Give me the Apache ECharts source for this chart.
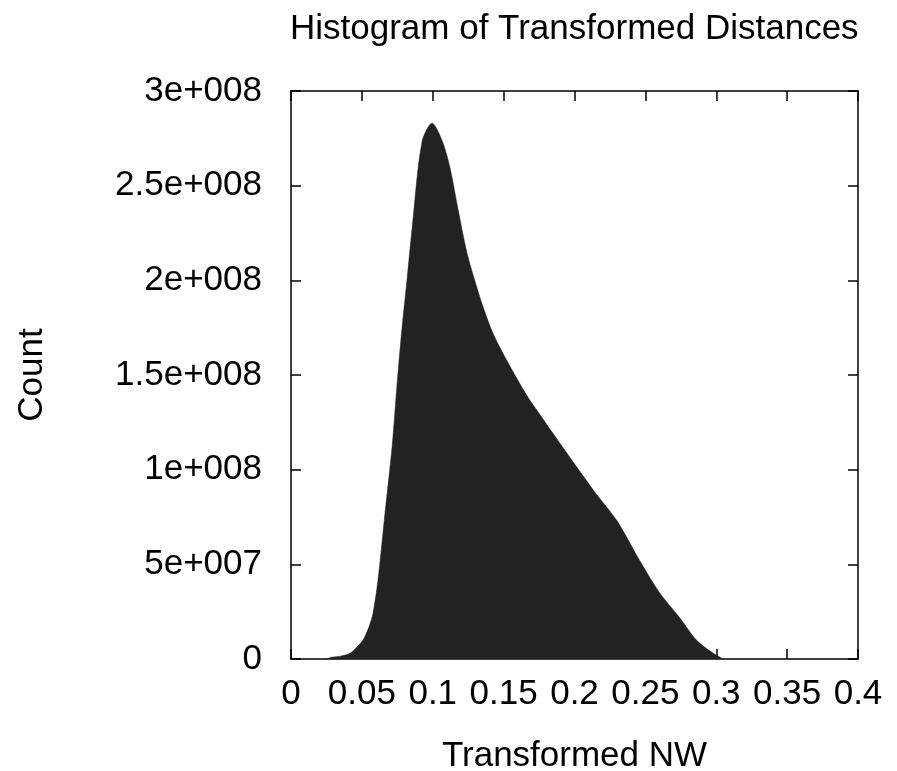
<!DOCTYPE html>
<html>
<head>
<meta charset="utf-8">
<script src="https://cdn.jsdelivr.net/npm/echarts@6/dist/echarts.min.js"></script>
<style>
	html, body { margin: 0; padding: 0; background: #fff; }
	#chart { width: 897px; height: 771px; }
</style>
</head>
<body>
<div id="chart"></div>
<script>
// histogram outline (bin centre, count)
const binX = [0.025, 0.029, 0.035, 0.0416, 0.046, 0.0508, 0.055, 0.0578, 0.0614, 0.0663,
	0.0713, 0.0748, 0.0782, 0.0818, 0.0855, 0.0924, 0.0995, 0.1065, 0.112, 0.118,
	0.124, 0.130, 0.1355, 0.1425, 0.152, 0.1665, 0.1757, 0.185, 0.202, 0.2145,
	0.23, 0.246, 0.26, 0.274, 0.286, 0.298, 0.305];
const counts = [0, 1e6, 1.5e6, 3e6, 6e6, 10e6, 17e6, 24e6, 42e6, 77e6,
	112e6, 145e6, 174e6, 200e6, 228e6, 273e6, 283e6, 274e6, 260e6, 237e6,
	215e6, 199e6, 186e6, 172e6, 158e6, 139e6, 129e6, 119e6, 101e6, 88e6,
	73e6, 52e6, 35e6, 22e6, 10e6, 3e6, 0];
const yTickLabels = ['0', '5e+007', '1e+008', '1.5e+008', '2e+008', '2.5e+008', '3e+008'];
const xTickLabels = ['0', '0.05', '0.1', '0.15', '0.2', '0.25', '0.3', '0.35', '0.4'];

const font = 'Liberation Sans, Arial, sans-serif';
const fs = 35;

const chart = echarts.init(document.getElementById('chart'), null, {renderer: 'canvas'});

const frameLine = {show: true, onZero: false, lineStyle: {color: '#000', width: 1.5}};
const inTick = {show: true, inside: true, length: 10, lineStyle: {color: '#000', width: 1.5}};

chart.setOption({
	backgroundColor: '#fff',
	animation: false,
	title: {
		text: 'Histogram of Transformed Distances',
		left: 285,
		top: 7,
		textStyle: {fontFamily: font, fontSize: fs, fontWeight: 'normal', color: '#000'}
	},
	grid: {left: 291, top: 91, right: 39, bottom: 112, outerBoundsMode: 'none'},
	xAxis: [
		{
			type: 'value', min: 0, max: 0.4, interval: 0.05,
			name: 'Transformed NW', nameLocation: 'middle', nameGap: 80,
			nameTextStyle: {fontFamily: font, fontSize: fs, color: '#000'},
			axisLine: frameLine, axisTick: inTick, splitLine: {show: false},
			axisLabel: {
				fontFamily: font, fontSize: fs, color: '#000', margin: 18,
				formatter: (v) => xTickLabels[Math.round(v / 0.05)]
			}
		},
		{
			type: 'value', position: 'top', min: 0, max: 0.4, interval: 0.05,
			axisLine: frameLine, axisTick: inTick, splitLine: {show: false},
			axisLabel: {show: false}
		}
	],
	yAxis: [
		{
			type: 'value', min: 0, max: 3e8, interval: 5e7,
			name: 'Count', nameLocation: 'middle', nameGap: 241, nameRotate: 90,
			nameTextStyle: {fontFamily: font, fontSize: fs, color: '#000'},
			axisLine: frameLine, axisTick: inTick, splitLine: {show: false},
			axisLabel: {
				fontFamily: font, fontSize: fs, color: '#000', margin: 29,
				formatter: (v) => yTickLabels[Math.round(v / 5e7)]
			}
		},
		{
			type: 'value', position: 'right', min: 0, max: 3e8, interval: 5e7,
			axisLine: frameLine, axisTick: inTick, splitLine: {show: false},
			axisLabel: {show: false}
		}
	],
	series: [{
		type: 'line',
		data: binX.map((x, i) => [x, counts[i]]),
		showSymbol: false,
		smooth: 0.3,
		lineStyle: {width: 0.5, color: '#222'},
		areaStyle: {color: '#222', opacity: 1},
		z: 1
	}]
});
</script>
</body>
</html>
